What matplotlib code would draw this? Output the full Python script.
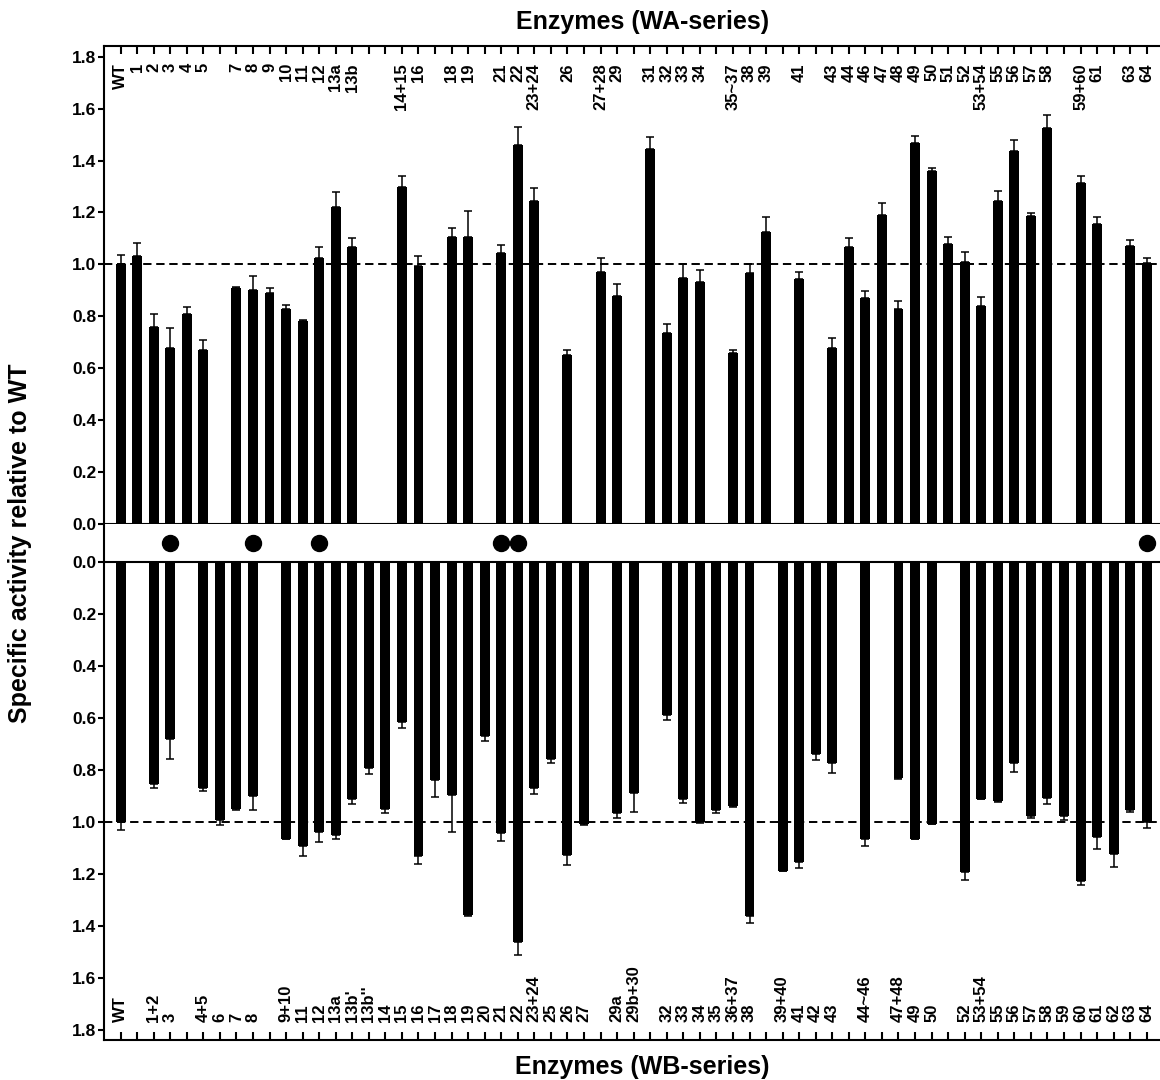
import numpy as np
import matplotlib
matplotlib.use("Agg")
import matplotlib.pyplot as plt
from matplotlib import transforms

nan = np.nan

# ---------------- data ----------------
wa_labels = ["WT", "1", "2", "3", "4", "5", "", "7", "8", "9", "10", "11", "12", "13a", "13b",
             "", "", "14+15", "16", "", "18", "19", "", "21", "22", "23+24", "", "26", "",
             "27+28", "29", "", "31", "32", "33", "34", "", "35~37", "38", "39", "", "41", "",
             "43", "44", "46", "47", "48", "49", "50", "51", "52", "53+54", "55", "56", "57",
             "58", "", "59+60", "61", "", "63", "64"]
wa_values = [1.00, 1.033, 0.757, 0.679, 0.807, 0.670, nan, 0.909, 0.901, 0.891, 0.829, 0.780,
             1.025, 1.221, 1.066, nan, nan, 1.299, 0.993, nan, 1.106, 1.106, nan, 1.042, 1.461,
             1.244, nan, 0.650, nan, 0.970, 0.879, nan, 1.443, 0.737, 0.947, 0.931, nan, 0.659,
             0.968, 1.126, nan, 0.942, nan, 0.676, 1.066, 0.869, 1.191, 0.828, 1.466, 1.360,
             1.079, 1.010, 0.841, 1.243, 1.438, 1.187, 1.525, nan, 1.314, 1.155, nan, 1.070, 1.004]
wa_errors = [0.035, 0.05, 0.05, 0.077, 0.028, 0.037, nan, 0.003, 0.054, 0.018, 0.014, 0.005,
             0.043, 0.059, 0.037, nan, nan, 0.04, 0.039, nan, 0.035, 0.1, nan, 0.032, 0.067,
             0.05, nan, 0.022, nan, 0.054, 0.045, nan, 0.049, 0.034, 0.054, 0.047, nan, 0.013,
             0.033, 0.055, nan, 0.03, nan, 0.039, 0.034, 0.028, 0.044, 0.029, 0.028, 0.01,
             0.025, 0.037, 0.034, 0.041, 0.04, 0.012, 0.05, nan, 0.027, 0.028, nan, 0.024, 0.02]

wb_labels = ["WT", "", "1+2", "3", "", "4+5", "6", "7", "8", "", "9+10", "11", "12", "13a",
             "13b'", "13b''", "14", "15", "16", "17", "18", "19", "20", "21", "22", "23+24",
             "25", "26", "27", "", "29a", "29b+30", "", "32", "33", "34", "35", "36+37", "38",
             "", "39+40", "41", "42", "43", "", "44~46", "", "47+48", "49", "50", "", "52",
             "53+54", "55", "56", "57", "58", "59", "60", "61", "62", "63", "64"]
wb_values = [1.00, nan, 0.853, 0.680, nan, 0.868, 0.995, 0.950, 0.901, nan, 1.066, 1.094,
             1.039, 1.049, 0.911, 0.793, 0.950, 0.615, 1.133, 0.841, 0.898, 1.358, 0.668,
             1.045, 1.463, 0.871, 0.759, 1.126, 1.010, nan, 0.965, 0.888, nan, 0.588, 0.911,
             1.000, 0.953, 0.941, 1.361, nan, 1.188, 1.155, 0.740, 0.775, nan, 1.068, nan,
             0.833, 1.065, 1.007, nan, 1.195, 0.911, 0.920, 0.775, 0.978, 0.910, 0.978, 1.227,
             1.059, 1.124, 0.953, 1.000]
wb_errors = [0.032, nan, 0.015, 0.077, nan, 0.014, 0.018, 0.005, 0.054, nan, 0.002, 0.036,
             0.038, 0.017, 0.022, 0.022, 0.015, 0.025, 0.028, 0.062, 0.142, 0.005, 0.022,
             0.03, 0.049, 0.022, 0.015, 0.041, 0.004, nan, 0.02, 0.073, nan, 0.021, 0.018,
             0.003, 0.012, 0.002, 0.027, nan, 0.003, 0.024, 0.022, 0.036, nan, 0.024, nan,
             0.004, 0.003, 0.003, nan, 0.028, 0.002, 0.003, 0.033, 0.007, 0.023, 0.016, 0.015,
             0.044, 0.05, 0.008, 0.023]

marked = ["3", "8", "12", "21", "22", "64"]

y_ticks = [0.0, 0.2, 0.4, 0.6, 0.8, 1.0, 1.2, 1.4, 1.6, 1.8]

# ---------------- style ----------------
FONT = "Liberation Sans"
plt.rcParams["font.family"] = [FONT, "DejaVu Sans"]
plt.rcParams["font.weight"] = "bold"
plt.rcParams["lines.scale_dashes"] = False

W, H = 1160, 1080
fig = plt.figure(figsize=(W / 100, H / 100), dpi=100)

left_px, right_px = 104, 1160
def fy(px):
    return 1 - px / H

x0 = left_px / W
wdt = (right_px - left_px) / W
ax_top = fig.add_axes([x0, fy(524), wdt, (524 - 46) / H])
ax_mid = fig.add_axes([x0, fy(562), wdt, (562 - 524) / H])
ax_bot = fig.add_axes([x0, fy(1039.5), wdt, (1039.5 - 562) / H])

n = len(wa_labels)
pos = np.arange(n)
xlim = (-1.0, n - 1 + 0.8)
spine_lw = 1.5
bar_w = 0.6

def draw_panel(ax, labels, values, errors, inverted):
    v = np.array(values, dtype=float)
    e = np.array(errors, dtype=float)
    m = ~np.isnan(v)
    ax.bar(pos[m], v[m], width=bar_w, color="black", zorder=2)
    ax.errorbar(pos[m], v[m], yerr=[np.zeros(m.sum()), e[m]], fmt="none",
                ecolor="black", elinewidth=1.1, capsize=3.0, capthick=1.1, zorder=3)
    ax.axhline(1.0, color="black", lw=1.4, dashes=(6, 3.4), zorder=4)
    ax.set_xlim(*xlim)
    if inverted:
        ax.set_ylim(1.838, 0.0)
    else:
        ax.set_ylim(0.0, 1.841)
    ax.set_yticks(y_ticks)
    ax.set_yticklabels([f"{t:.1f}" for t in y_ticks], fontsize=12.5, fontweight="bold")
    ax.tick_params(axis="y", direction="out", length=4, width=spine_lw, pad=1.5)
    ax.set_xticks(pos)
    ax.set_xticklabels([])
    ax.spines["right"].set_visible(False)
    for s in ax.spines.values():
        s.set_linewidth(spine_lw)
    trans = transforms.blended_transform_factory(ax.transData, ax.transAxes)
    for p, lab in zip(pos, labels):
        if not lab:
            continue
        if inverted:
            ax.text(p, 18 / 477.5, lab, transform=trans, rotation=90, ha="center",
                    va="bottom", fontsize=12, fontweight="bold")
        else:
            ax.text(p, 1 - 17 / 478, lab, transform=trans, rotation=90, ha="center",
                    va="top", fontsize=12, fontweight="bold")

draw_panel(ax_top, wa_labels, wa_values, wa_errors, inverted=False)
ax_top.xaxis.set_ticks_position("top")
ax_top.tick_params(axis="x", direction="in", length=5.5, width=spine_lw, top=True, bottom=False)

draw_panel(ax_bot, wb_labels, wb_values, wb_errors, inverted=True)
ax_bot.xaxis.set_ticks_position("bottom")
ax_bot.tick_params(axis="x", direction="in", length=5.5, width=spine_lw, top=False, bottom=True)

# middle strip with markers
ax_mid.set_xlim(*xlim)
ax_mid.set_ylim(0, 1)
ax_mid.set_xticks([])
ax_mid.set_yticks([])
for k in ["top", "bottom", "right"]:
    ax_mid.spines[k].set_visible(False)
ax_mid.spines["left"].set_linewidth(spine_lw)
mpos = [wa_labels.index(lbl) for lbl in marked]
ax_mid.plot(mpos, [0.5] * len(mpos), "o", color="black", markersize=11.5, clip_on=False)

# titles
fig.text(643 / W, fy(28.5), "Enzymes (WA-series)", ha="center", va="baseline",
         fontsize=18, fontweight="bold")
fig.text(642 / W, fy(1074), "Enzymes (WB-series)", ha="center", va="baseline",
         fontsize=18, fontweight="bold")
fig.text(20 / W, 0.497, "Specific activity relative to WT", rotation=90, ha="center",
         va="center", fontsize=18, fontweight="bold")

fig.savefig("out.png", dpi=100)
